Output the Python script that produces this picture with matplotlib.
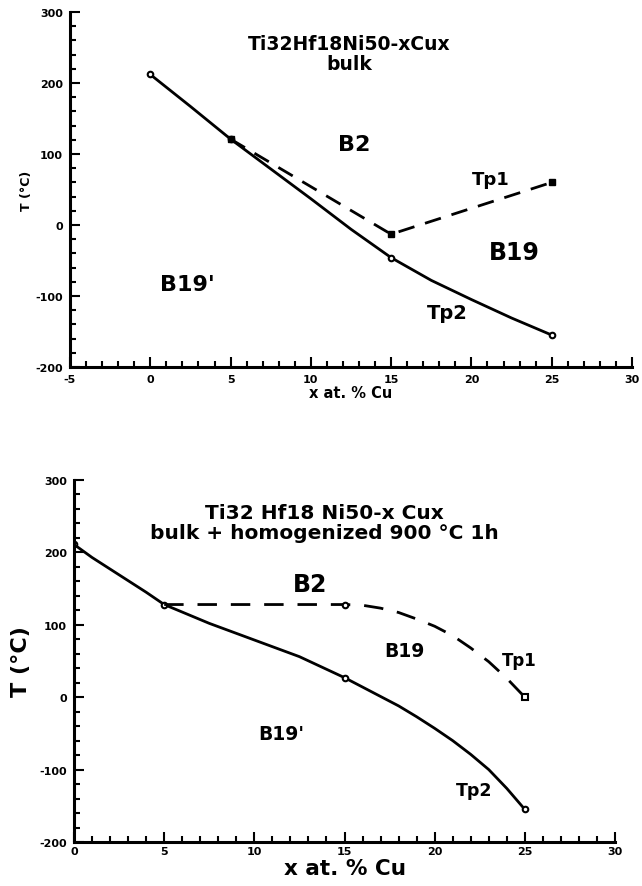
import numpy as np
import matplotlib.pyplot as plt
from matplotlib.ticker import MultipleLocator

plt.rcParams['axes.unicode_minus'] = False

# ---- top panel: bulk ----
top_tp2_x = [0, 5, 15, 25]
top_tp2_y = [212, 121, -46, -155]
top_tp2_curve_x = [0, 2.5, 5, 7.5, 10, 12.5, 15, 17.5, 20, 22.5, 25]
top_tp2_curve_y = [212, 167, 121, 79, 37, -6, -46, -78, -105, -131, -155]
top_tp1_x = [5, 15, 25]
top_tp1_y = [121, -13, 60]

# ---- bottom panel: bulk + homogenized ----
bot_tp2_x = [0, 5, 15, 25]
bot_tp2_y = [211, 128, 27, -155]
bot_tp2_curve_x = [0, 1, 2.5, 4, 5, 7.5, 10, 12.5, 15, 16, 17, 18, 19, 20,
                   21, 22, 23, 24, 25]
bot_tp2_curve_y = [211, 193, 169, 145, 128, 102, 79, 56, 27, 14, 1, -12, -27,
                   -43, -60, -79, -100, -126, -155]
bot_tp1_x = [15, 25]
bot_tp1_y = [128, 0]
bot_tp1_curve_x = [5, 10, 15, 16, 17, 18, 19, 20, 21, 22, 23, 24, 25]
bot_tp1_curve_y = [128, 128, 128, 127, 123, 117, 108, 98, 85, 68, 49, 26, 0]

W, H = 642, 887
fig = plt.figure(figsize=(W / 100, H / 100), dpi=100)

def make_axes(l, r, t, b):
    return fig.add_axes([l / W, 1 - b / H, (r - l) / W, (b - t) / H])

def style(ax, xlim):
    ax.set_xlim(*xlim)
    ax.set_ylim(-200, 300)
    for s in ['top', 'right']:
        ax.spines[s].set_visible(False)
    for s in ['left', 'bottom']:
        ax.spines[s].set_linewidth(2.2)
    ax.xaxis.set_major_locator(MultipleLocator(5))
    ax.xaxis.set_minor_locator(MultipleLocator(1))
    ax.yaxis.set_major_locator(MultipleLocator(100))
    ax.yaxis.set_minor_locator(MultipleLocator(20))
    ax.tick_params(which='major', direction='in', length=7, width=1.5,
                   labelsize=8, pad=5)
    ax.tick_params(which='minor', direction='in', length=4, width=1.5)
    for lab in ax.get_xticklabels() + ax.get_yticklabels():
        lab.set_fontweight('bold')

def label(ax, x, y, s, size):
    ax.text(x, y, s, ha='center', va='center', fontsize=size, fontweight='bold')

# top
ax1 = make_axes(70, 632, 13, 368)
style(ax1, (-5, 30))
ax1.plot(top_tp2_curve_x, top_tp2_curve_y, color='black', lw=2)
ax1.plot(top_tp2_x, top_tp2_y, 'o', ms=4, mfc='white', mec='black', mew=1.5)
ax1.plot(top_tp1_x, top_tp1_y, color='black', lw=2, ls=(0, (6, 4)))
ax1.plot(top_tp1_x, top_tp1_y, 's', ms=5, color='black')
ax1.set_xlabel('x at. % Cu', fontsize=10.5, fontweight='bold', labelpad=1)
ax1.set_ylabel('T (°C)', fontsize=9, fontweight='bold', labelpad=2)
label(ax1, 12.4, 256, 'Ti32Hf18Ni50-xCux', 13.5)
label(ax1, 12.4, 227, 'bulk', 13.5)
label(ax1, 12.7, 114, 'B2', 16)
label(ax1, 21.2, 65, 'Tp1', 13)
label(ax1, 22.7, -38, 'B19', 17)
label(ax1, 2.3, -83, "B19'", 16)
label(ax1, 18.5, -123, 'Tp2', 14)

# bottom
ax2 = make_axes(74, 615, 481, 843)
style(ax2, (0, 30))
ax2.plot(bot_tp2_curve_x, bot_tp2_curve_y, color='black', lw=2)
ax2.plot(bot_tp2_x, bot_tp2_y, 'o', ms=4, mfc='white', mec='black', mew=1.5)
ax2.plot(bot_tp1_curve_x, bot_tp1_curve_y, color='black', lw=2, ls=(0, (7, 5)))
ax2.plot(bot_tp1_x[:1], bot_tp1_y[:1], 'o', ms=4, mfc='white', mec='black', mew=1.5)
ax2.plot(bot_tp1_x[1:], bot_tp1_y[1:], 's', ms=5, mfc='white', mec='black', mew=1.5)
ax2.tick_params(axis='x', which='major', pad=3)
ax2.set_xlabel('x at. % Cu', fontsize=15.5, fontweight='bold', labelpad=1)
ax2.set_ylabel('T (°C)', fontsize=16, fontweight='bold', labelpad=6)
label(ax2, 13.9, 255, 'Ti32 Hf18 Ni50-x Cux', 14.5)
label(ax2, 13.9, 227, 'bulk + homogenized 900 °C 1h', 14.5)
label(ax2, 13.1, 156, 'B2', 17)
label(ax2, 18.3, 65, 'B19', 13.5)
label(ax2, 24.7, 52, 'Tp1', 12)
label(ax2, 11.5, -50, "B19'", 13.5)
label(ax2, 22.2, -128, 'Tp2', 12.5)

fig.savefig('out.png', dpi=100)
